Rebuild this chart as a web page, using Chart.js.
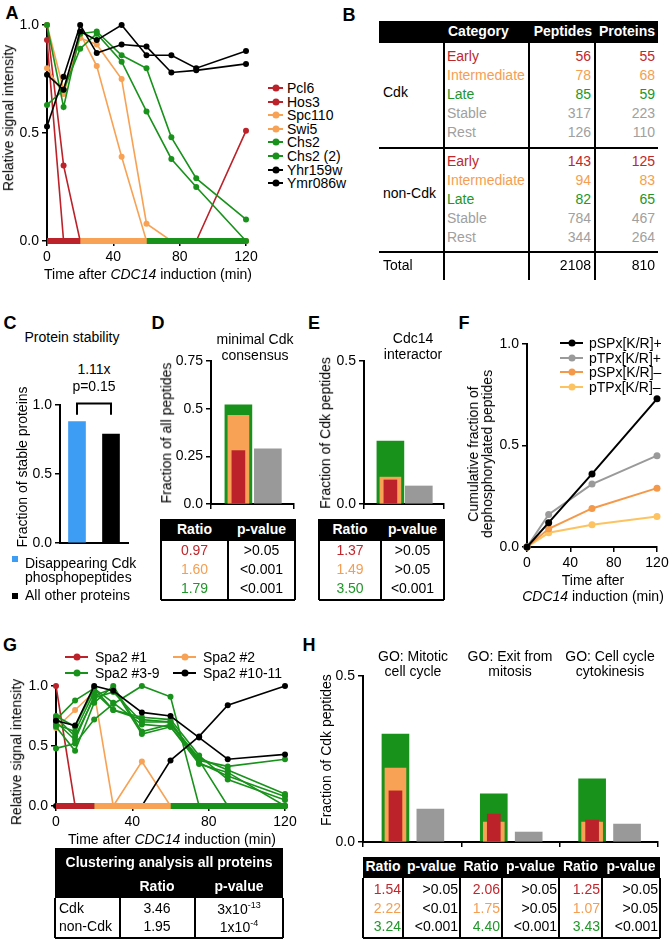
<!DOCTYPE html>
<html>
<head>
<meta charset="utf-8">
<script src="https://cdn.jsdelivr.net/npm/chart.js@4.4.1/dist/chart.umd.min.js"></script>
<style>
  body { margin: 0; background: #fff; }
  #page { position: relative; width: 672px; height: 940px; overflow: hidden;
    font-family: "Liberation Sans", Arial, sans-serif; font-size: 14px; color: #000; }
  .t { position: absolute; white-space: nowrap; line-height: 1.12; transform: translate(-50%, -50%); text-align: center; }
  .t.r { transform: translate(-100%, -50%); text-align: right; }
  .t.l { transform: translate(0, -50%); text-align: left; }
  .t.rot { transform: translate(-50%, -50%) rotate(-90deg); }
  .b { font-weight: bold; }
  .w { color: #fff; }
  .big { font-size: 18px; font-weight: bold; }
  .ln { position: absolute; background: #000; }
  .lg { position: absolute; white-space: nowrap; transform: translateY(-50%); display: flex; align-items: center; line-height: 1; }
  .sw { display: inline-block; height: 2px; background: currentColor; position: relative; }
  .sw::after { content: ""; position: absolute; left: 50%; top: 50%; width: 7px; height: 7px; border-radius: 50%;
    background: currentColor; transform: translate(-50%, -50%); }
  sup { font-size: 9px; }
  canvas { position: absolute; }
</style>
</head>
<body>
<div id="page"></div>
<script>
// colours
const RED = "#bb2229", ORANGE = "#f7a254", GREEN = "#18921b", GRAY = "#999999", BLACK = "#000000", BLUE = "#3d9df5";
const TRED = "#c0272d", TORANGE = "#f59e52", TGREEN = "#21962a", TGRAY = "#a0a0a0";

// ---- A: example time courses ----
const timeA = [0, 10, 20, 30, 45, 60, 75, 90, 120];
const namesA = ["Pcl6", "Hos3", "Spc110", "Swi5", "Chs2", "Chs2 (2)", "Yhr159w", "Ymr086w"];
const pcl6 = [1.0, 0.35, 0, 0, 0, 0, 0, 0, 0];
const hos3 = [0.93, 0, 0, 0, 0, 0, 0, 0, 0.51];
const spc110 = [0.80, 0.68, 0.94, 0.91, 0.75, 0.08, 0, 0, 0];
const swi5 = [1.0, 0.70, 0.96, 0.81, 0.39, 0, 0, 0, 0];
const chs2 = [1.0, 0.62, 0.96, 0.97, 0.86, 0.80, 0.48, 0.29, 0.1];
const chs2b = [0.63, 0.70, 0.89, 0.96, 0.83, 0.60, 0.38, 0.25, 0];
const yhr159w = [0.53, 0.76, 1.0, 0.87, 0.91, 0.90, 0.78, 0.79, 0.82];
const ymr086w = [0.77, 0.70, 0.97, 0.93, 1.0, 0.86, 0.86, 0.80, 0.88];
const colorsA = [RED, RED, ORANGE, ORANGE, GREEN, GREEN, BLACK, BLACK];
const clusterEdges = [0, 20, 60, 120];
const clusterColors = [RED, ORANGE, GREEN];

// ---- B: category table ----
const categories = ["Early", "Intermediate", "Late", "Stable", "Rest"];
const catColors = [TRED, TORANGE, TGREEN, TGRAY, TGRAY];
const cdkPeptides = [56, 78, 85, 317, 126];
const cdkProteins = [55, 68, 59, 223, 110];
const nonCdkPeptides = [143, 94, 82, 784, 344];
const nonCdkProteins = [125, 83, 65, 467, 264];
const totals = [2108, 810];

// ---- C: protein stability ----
const stabilityLabels = ["Disappearing Cdk phosphopeptides", "All other proteins"];
const stabilityValues = [0.88, 0.79];
const stabilityColors = [BLUE, BLACK];

// ---- D, E, H: stacked-overlay bars (early, intermediate, late) vs other ----
const dEarly = [0.28], dInter = [0.465], dLate = [0.52], dOther = [0.29];
const dRatio = ["0.97", "1.60", "1.79"], dP = [">0.05", "<0.001", "<0.001"];
const eEarly = [0.084], eInter = [0.094], eLate = [0.22], eOther = [0.063];
const eRatio = ["1.37", "1.49", "3.50"], eP = [">0.05", ">0.05", "<0.001"];
const goTerms = [["GO: Mitotic", "cell cycle"], ["GO: Exit from", "mitosis"], ["GO: Cell cycle", "cytokinesis"]];
const hEarly = [0.154, 0.084, 0.066];
const hInter = [0.223, 0.06, 0.06];
const hLate = [0.325, 0.145, 0.19];
const hOther = [0.099, 0.03, 0.054];
const hRatio = [["1.54", "2.22", "3.24"], ["2.06", "1.75", "4.40"], ["1.25", "1.07", "3.43"]];
const hP = [[">0.05", "<0.01", "<0.001"], [">0.05", ">0.05", "<0.001"], [">0.05", ">0.05", "<0.001"]];
const rowColors = [TRED, TORANGE, TGREEN];

// ---- F: cumulative dephosphorylation ----
const timeF = [0, 20, 60, 120];
const motifs = ["pSPx[K/R]+", "pTPx[K/R]+", "pSPx[K/R]–", "pTPx[K/R]–"];
const pSPplus = [0, 0.12, 0.36, 0.73];
const pTPplus = [0, 0.16, 0.31, 0.45];
const pSPminus = [0, 0.09, 0.19, 0.29];
const pTPminus = [0, 0.07, 0.11, 0.15];
const colorsF = [BLACK, "#9a9a9a", "#f4994a", "#fcc360"];

// ---- G: Spa2 peptides ----
const namesG = ["Spa2 #1", "Spa2 #2", "Spa2 #3-9", "Spa2 #10-11"];
const colorsG = [RED, ORANGE, GREEN, BLACK];
const spa2_1 = [1.0, 0, 0, 0, 0, 0, 0, 0, 0];
const spa2_2 = [0.65, 0.80, 0.95, 0, 0.37, 0, 0, 0, 0];
const spa2_3 = [0.48, 0.52, 0.72, 0.85, 1.0, 0.91, 0, 0, 0];
const spa2_4 = [0.72, 0.88, 0.98, 0.80, 0.72, 0.70, 0.38, 0, 0];
const spa2_5 = [0.70, 0.55, 0.92, 0.98, 0.60, 0.66, 0.38, 0.33, 0.39];
const spa2_6 = [0.66, 0.46, 0.86, 1.0, 0.62, 0.68, 0.40, 0.30, 0.10];
const spa2_7 = [0.74, 0.58, 0.90, 0.95, 0.70, 0.70, 0.36, 0.25, 0.08];
const spa2_8 = [0.68, 0.62, 0.95, 0.80, 0.74, 0.72, 0.42, 0.22, 0.05];
const spa2_9 = [0.75, 0.66, 0.98, 0.86, 0.68, 0.66, 0.35, 0.28, 0];
const spa2_10 = [0.71, 0.67, 1.0, 0.96, 0.78, 0.75, 0.57, 0.39, 0.43];
const spa2_11 = [0, 0, 0, 0, 0, 0.38, 0.58, 0.84, 1.0];
const clusterRowsG = ["Cdk", "non-Cdk"];
const clusterRatio = ["3.46", "1.95"];
const clusterP = ["3x10<sup>-13</sup>", "1x10<sup>-4</sup>"];

// ---------------- helpers ----------------
const page = document.getElementById("page");
Chart.defaults.font.family = '"Liberation Sans", Arial, sans-serif';
Chart.defaults.font.size = 14;
Chart.defaults.color = "#000";

function put(html, x, y, cls, css) {
  const d = document.createElement("div");
  d.className = "t " + (cls || "");
  d.innerHTML = html;
  d.style.left = x + "px";
  d.style.top = y + "px";
  if (css) d.style.cssText += css;
  page.appendChild(d);
  return d;
}
function box(x, y, w, h, color) {
  const d = document.createElement("div");
  d.className = "ln";
  d.style.cssText = `left:${x}px;top:${y}px;width:${w}px;height:${h}px;background:${color || "#000"}`;
  page.appendChild(d);
}
const hline = (x1, x2, y) => box(x1, y - 0.75, x2 - x1, 1.5);
const vline = (x, y1, y2) => box(x - 0.75, y1, 1.5, y2 - y1);

function legendItem(x, y, label, color, len, gap) {
  const d = document.createElement("div");
  d.className = "lg";
  d.style.left = x + "px";
  d.style.top = y + "px";
  d.innerHTML = `<span class="sw" style="color:${color};width:${len}px;margin-right:${gap}px"></span>${label}`;
  page.appendChild(d);
}

const fmt = v => (v === 0 ? "0.0" : (Math.abs(v * 10 % 1) < 1e-9 ? v.toFixed(1) : String(v)));

function scale(o, fit) {
  return Object.assign({
    type: "linear",
    offset: false,
    grid: { drawOnChartArea: false, offset: false, color: "#000", lineWidth: 1.5, tickLength: 5 },
    border: { color: "#000", width: 2 }
  }, o, {
    ticks: Object.assign({ color: "#000", font: { size: 14 }, padding: 3 }, o.ticks || {}),
    afterFit: fit
  });
}

// plot = chart area in page pixels
function makeChart(plot, type, datasets, xOpt, yOpt, plugins, labels) {
  const YW = 46, XH = 26, PT = 14, PR = 20;
  const w = plot.r - plot.l + YW + PR, h = plot.b - plot.t + PT + XH;
  const c = document.createElement("canvas");
  c.width = w; c.height = h;
  c.style.cssText = `left:${plot.l - YW}px;top:${plot.t - PT}px;width:${w}px;height:${h}px`;
  page.appendChild(c);
  const data = { datasets };
  if (labels) data.labels = labels;
  return new Chart(c, {
    type, data, plugins: plugins || [],
    options: {
      responsive: false, animation: false, events: [],
      layout: { padding: { top: PT, right: PR, left: 0, bottom: 0 } },
      plugins: { legend: { display: false }, tooltip: { enabled: false } },
      scales: {
        x: scale(xOpt, s => { s.height = XH; }),
        y: scale(yOpt, s => { s.width = YW; })
      }
    }
  });
}

function lineSet(xs, ys, color, radius, width) {
  return {
    data: xs.map((x, i) => ({ x, y: ys[i] })),
    borderColor: color, backgroundColor: color, pointBackgroundColor: color,
    pointBorderWidth: 0, pointRadius: radius, borderWidth: width, clip: false, tension: 0
  };
}
function bands(edges, colors) {
  return colors.map((c, i) => ({
    data: [{ x: edges[i], y: 0 }, { x: edges[i + 1], y: 0 }],
    borderColor: c, borderWidth: 6, pointRadius: 0, clip: false, borderCapStyle: "butt"
  }));
}
// overlay bars: late (wide green) behind intermediate (orange) behind early (narrow red), other in gray
function overlayBars(early, inter, late, other) {
  const at = (vals, off) => vals.map((v, i) => ({ x: i + off, y: v }));
  return [
    { data: at(early, 0.33), backgroundColor: RED, barThickness: 13, order: 1 },
    { data: at(inter, 0.33), backgroundColor: ORANGE, barThickness: 21, order: 2 },
    { data: at(late, 0.33), backgroundColor: GREEN, barThickness: 27, order: 3 },
    { data: at(other, 0.685), backgroundColor: GRAY, barThickness: 27, order: 1 }
  ].map(d => Object.assign(d, { grouped: false, borderWidth: 0, clip: false }));
}

// ---------------- panel letters ----------------
[["A", 12, 13], ["B", 349, 15], ["C", 10, 323], ["D", 158, 323], ["E", 314, 323],
 ["F", 464, 323], ["G", 10, 645], ["H", 309, 645]].forEach(p => put(p[0], p[1], p[2], "big"));

// ---------------- A ----------------
const valuesA = [pcl6, hos3, spc110, swi5, chs2, chs2b, yhr159w, ymr086w];
makeChart({ l: 47, r: 246, t: 25, b: 241 }, "line",
  bands(clusterEdges, clusterColors).concat(
    valuesA.map((v, i) => lineSet(timeA, v, colorsA[i], 3, 1.6)).reverse()),
  { min: 0, max: 120, ticks: { stepSize: 40 } },
  { min: 0, max: 1, ticks: { stepSize: 0.5, callback: fmt } });
put("Relative signal intensity", 9, 118, "rot");
put("Time after <i>CDC14</i> induction (min)", 148, 275);
namesA.forEach((n, i) => legendItem(268, 88 + i * 13.6, n, colorsA[i], 15, 4));

// ---------------- B ----------------
box(379, 21, 279, 22);
put("Category", 448, 32, "l b w");
put("Peptides", 592, 32, "r b w");
put("Proteins", 655, 32, "r b w");
[444, 529, 595].forEach(x => vline(x, 43, 280));
hline(379, 658, 148);
hline(379, 658, 252);
function groupRows(y0, label, pep, prot, labelY) {
  put(label, 383, labelY, "l");
  categories.forEach((c, i) => {
    const y = y0 + i * 18.9;
    put(c, 447, y, "l", `color:${catColors[i]}`);
    put(pep[i], 591, y, "r", `color:${catColors[i]}`);
    put(prot[i], 655, y, "r", `color:${catColors[i]}`);
  });
}
groupRows(57, "Cdk", cdkPeptides, cdkProteins, 93);
groupRows(162, "non-Cdk", nonCdkPeptides, nonCdkProteins, 194);
put("Total", 383, 266, "l");
put(totals[0], 591, 266, "r");
put(totals[1], 655, 266, "r");

// ---------------- C ----------------
const bracket = {
  id: "bracket",
  afterDatasetsDraw(chart) {
    const { ctx, scales: { x, y } } = chart;
    const x1 = x.getPixelForValue(0), x2 = x.getPixelForValue(1);
    const yt = y.getPixelForValue(1.01), yb = y.getPixelForValue(0.93);
    ctx.save();
    ctx.strokeStyle = "#000"; ctx.lineWidth = 2;
    ctx.beginPath();
    ctx.moveTo(x1, yb); ctx.lineTo(x1, yt); ctx.lineTo(x2, yt); ctx.lineTo(x2, yb);
    ctx.stroke();
    ctx.restore();
  }
};
makeChart({ l: 60, r: 128, t: 405, b: 543 }, "bar",
  [{ data: stabilityValues, backgroundColor: stabilityColors, barThickness: 17, borderWidth: 0 }],
  { type: "category", offset: true, ticks: { display: false }, grid: { drawOnChartArea: false, drawTicks: false } },
  { min: 0, max: 1, ticks: { stepSize: 0.5, callback: fmt } },
  [bracket], stabilityLabels);
put("Protein stability", 72, 338);
put("1.11x", 94, 370);
put("p=0.15", 94, 387);
put("Fraction of stable proteins", 23, 467, "rot");
box(12, 556, 6, 6, BLUE);
box(12, 593, 6, 6, BLACK);
put("Disappearing Cdk<br>phosphopeptides", 25, 570, "l", "text-align:left;line-height:1.0;");
put(stabilityLabels[1], 25, 596, "l");

// ---------------- D ----------------
makeChart({ l: 211, r: 294, t: 361, b: 504 }, "bar", overlayBars(dEarly, dInter, dLate, dOther),
  { min: 0, max: 1, ticks: { display: false, stepSize: 1 } },
  { min: 0, max: 0.75, ticks: { stepSize: 0.25, callback: fmt } });
put("minimal Cdk", 255, 340);
put("consensus", 255, 356);
put("Fraction of all peptides", 167, 433, "rot");

function smallTable(l, r, mid, ratios, ps) {
  box(l, 519, r - l, 22);
  put("Ratio", (l + mid) / 2, 530, "b w");
  put("p-value", (mid + r) / 2, 530, "b w");
  vline(l, 519, 600); vline(r, 519, 600); vline(mid, 541, 600);
  hline(l, r, 600);
  ratios.forEach((v, i) => {
    put(v, (l + mid) / 2, 551 + i * 19, "", `color:${rowColors[i]}`);
    put(ps[i], (mid + r) / 2, 551 + i * 19);
  });
}
smallTable(161, 295, 228, dRatio, dP);

// ---------------- E ----------------
makeChart({ l: 364, r: 444, t: 361, b: 504 }, "bar", overlayBars(eEarly, eInter, eLate, eOther),
  { min: 0, max: 1, ticks: { display: false, stepSize: 1 } },
  { min: 0, max: 0.5, ticks: { stepSize: 0.5, callback: fmt } });
put("Cdc14", 413, 339);
put("interactor", 413, 355);
put("Fraction of Cdk peptides", 326, 433, "rot");
smallTable(319, 444, 381, eRatio, eP);

// ---------------- F ----------------
const valuesF = [pSPplus, pTPplus, pSPminus, pTPminus];
makeChart({ l: 527, r: 657, t: 344, b: 547 }, "line",
  valuesF.map((v, i) => lineSet(timeF, v, colorsF[i], 3.5, 2)),
  { min: 0, max: 120, ticks: { stepSize: 40 } },
  { min: 0, max: 1, ticks: { stepSize: 0.5, callback: fmt } });
motifs.forEach((m, i) => legendItem(560, 343 + i * 14.7, m, colorsF[i], 23, 6));
put("Cumulative fraction of<br>dephosphorylated peptides", 480, 454, "rot", "line-height:1.0;");
put("Time after", 593, 581);
put("<i>CDC14</i> induction (min)", 593, 597);

// ---------------- G ----------------
const greensG = [spa2_3, spa2_4, spa2_5, spa2_6, spa2_7, spa2_8, spa2_9];
const setsG = [lineSet(timeA, spa2_10, BLACK, 3, 1.6), lineSet(timeA, spa2_11, BLACK, 3, 1.6)]
  .concat(greensG.map(v => lineSet(timeA, v, GREEN, 3, 1.6)))
  .concat([lineSet(timeA, spa2_2, ORANGE, 3, 1.6), lineSet(timeA, spa2_1, RED, 3, 1.6)]);
makeChart({ l: 56, r: 285, t: 686, b: 806 }, "line",
  bands(clusterEdges, clusterColors).concat(setsG),
  { min: 0, max: 120, ticks: { stepSize: 40 } },
  { min: 0, max: 1, ticks: { stepSize: 0.5, callback: fmt } });
namesG.forEach((n, i) => legendItem(i % 2 ? 173 : 65, i < 2 ? 657 : 673, n, colorsG[i], 23, 7));
put("Relative signal intensity", 17, 752, "rot");
put("Time after <i>CDC14</i> induction (min)", 172, 840);

box(55, 848, 228, 50);
put("Clustering analysis all proteins", 169, 863, "b w");
put("Ratio", 157, 887, "b w");
put("p-value", 239, 887, "b w");
[55, 120, 195, 283].forEach(x => vline(x, 898, 938));
hline(55, 283, 938);
clusterRowsG.forEach((r, i) => {
  const y = 909 + i * 18;
  put(r, 59, y, "l");
  put(clusterRatio[i], 157, y);
  put(clusterP[i], 239, y);
});

// ---------------- H ----------------
makeChart({ l: 363, r: 658, t: 676, b: 842 }, "bar", overlayBars(hEarly, hInter, hLate, hOther),
  { min: 0, max: 3, ticks: { display: false, stepSize: 1 } },
  { min: 0, max: 0.5, ticks: { stepSize: 0.5, callback: fmt } });
const goCenters = [413, 510, 610];
goTerms.forEach((g, i) => { put(g[0], goCenters[i], 657); put(g[1], goCenters[i], 672); });
put("Fraction of Cdk peptides", 327, 750, "rot");

const hCols = [363, 403, 460, 502, 559, 602, 660];
box(363, 857, 297, 21);
hCols.forEach(x => vline(x, 878, 938));
hline(363, 660, 938);
goTerms.forEach((g, k) => {
  const a = hCols[2 * k], m = hCols[2 * k + 1], b = hCols[2 * k + 2];
  put("Ratio", (a + m) / 2, 867, "b w");
  put("p-value", (m + b) / 2, 867, "b w");
  hRatio[k].forEach((v, i) => put(v, m - 2, 890 + i * 18.5, "r", `color:${rowColors[i]}`));
  hP[k].forEach((v, i) => put(v, b - 2, 890 + i * 18.5, "r"));
});
</script>
</body>
</html>
